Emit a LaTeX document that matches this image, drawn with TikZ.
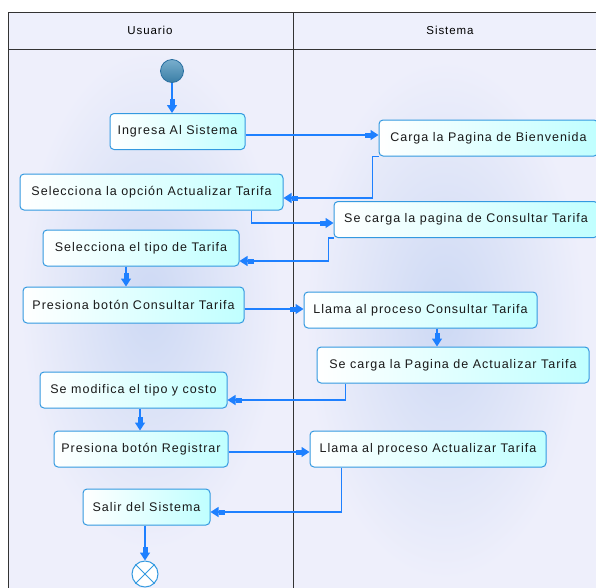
\documentclass[tikz,border=0pt]{standalone}
\usepackage{fontspec}
\newfontfamily\diafont[LetterSpace=8]{Liberation Sans}
\usetikzlibrary{arrows.meta,positioning,calc}
\definecolor{lanebg}{RGB}{238,239,251}
\definecolor{laneglow}{RGB}{205,217,244}
\definecolor{headbg}{RGB}{238,240,252}
\definecolor{boxline}{RGB}{51,153,224}
\definecolor{boxcyan}{RGB}{192,255,255}
\definecolor{flowblue}{RGB}{30,128,255}
\definecolor{startblue}{RGB}{64,140,184}
\definecolor{startline}{RGB}{40,110,160}
\tikzset{
  act/.style={draw=boxline,line width=1pt,rounded corners=4pt,left color=white,right color=boxcyan,
    minimum height=36pt,inner sep=0pt,font=\diafont\fontsize{12.5}{14}\selectfont,text=black!90},
  flow/.style={draw=flowblue,line width=1.2pt,-{Rectangle[length=6pt,width=5pt]Triangle[length=8pt,width=10pt]}},
  lane/.style={draw=black!80,line width=1pt}
}
\newcommand{\actbox}[4]{\node[act,minimum width=#3pt] (#1) at (#2) {#4};}
\newcommand{\glow}[3]{\shade[inner color=laneglow,outer color=lanebg] (#1) ellipse (#2pt and #3pt);}

\begin{document}
\begin{tikzpicture}[x=1pt,y=-1pt]
\useasboundingbox (0,0) rectangle (596,587);
\begin{scope}
\clip (0,0) rectangle (596,587);
% swimlanes
\fill[lanebg] (8,49) rectangle (620,620);
\glow{150,300}{130}{250}
\glow{445,320}{140}{260}
\fill[headbg] (8,12) rectangle (620,49);
\draw[lane] (8,620) -- (8,12) -- (620,12);
\draw[lane] (8,49) -- (620,49);
\draw[lane] (293,12) -- (293,620);
\node[font=\diafont\fontsize{11.5}{13}\selectfont] (usuario) at (150,30) {Usuario};
\node[font=\diafont\fontsize{11.5}{13}\selectfont] (sistema) at (450,30) {Sistema};
% start / end
\node[circle,draw=startline,line width=0.8pt,top color=startblue!70,bottom color=startblue!90!black,
  minimum size=23pt,inner sep=0pt] (inicio) at (172,71) {};
\node[circle,draw=boxline,line width=1pt,fill=white,minimum size=26pt,inner sep=0pt] (fin) at (145,574) {};
\draw[boxline,line width=1pt] (fin.north east) -- (fin.south west) (fin.north west) -- (fin.south east);
% activities
\actbox{ingresa}{177.5,131.5}{135}{Ingresa Al Sistema}
\actbox{carga}{488.5,138}{219}{Carga la Pagina de Bienvenida}
\actbox{selopc}{151.5,192}{263}{Selecciona la opción Actualizar Tarifa}
\actbox{secons}{466,219.5}{264}{Se carga la pagina de Consultar Tarifa}
\actbox{seltipo}{141,248}{196}{Selecciona el tipo de Tarifa}
\actbox{prescons}{133.5,305}{221}{Presiona botón Consultar Tarifa}
\actbox{llamacons}{420.5,310}{233}{Llama al proceso Consultar Tarifa}
\actbox{seact}{453,365}{272}{Se carga la Pagina de Actualizar Tarifa}
\actbox{semod}{133.5,390}{187}{Se modifica el tipo y costo}
\actbox{presreg}{141,449}{174}{Presiona botón Registrar}
\actbox{llamaact}{428,449}{236}{Llama al proceso Actualizar Tarifa}
\actbox{salir}{146.5,507}{127}{Salir del Sistema}
% flows
\draw[flow] (inicio.south) -- (inicio.south |- ingresa.north);
\draw[flow] ([yshift=-3.5pt]ingresa.east) -- ([yshift=-3.5pt]ingresa.east -| carga.west);
\draw[flow] (carga.south west) -- ++(-6,0) |- ([yshift=-6pt]selopc.east);
\draw[flow] ([xshift=-32pt]selopc.south east) |- ([yshift=-3.5pt]secons.west);
\draw[flow] (secons.south west) -- ++(-5,0) |- ([yshift=-13pt]seltipo.east);
\draw[flow] ([xshift=-15pt]seltipo.south) -- ([xshift=-15pt]seltipo.south |- prescons.north);
\draw[flow] ([yshift=-4pt]prescons.east) -- ([yshift=-4pt]prescons.east -| llamacons.west);
\draw[flow] ([xshift=16.5pt]llamacons.south) -- ([xshift=16.5pt]llamacons.south |- seact.north);
\draw[flow] ([xshift=29pt]seact.south west) |- ([yshift=-10pt]semod.east);
\draw[flow] ([xshift=6.5pt]semod.south) -- ([xshift=6.5pt]semod.south |- presreg.north);
\draw[flow] ([yshift=-3pt]presreg.east) -- ([yshift=-3pt]presreg.east -| llamaact.west);
\draw[flow] ([xshift=32pt]llamaact.south west) |- ([yshift=-5pt]salir.east);
\draw[flow] (salir.south -| fin) -- (fin.north);
\end{scope}
\end{tikzpicture}
\end{document}
